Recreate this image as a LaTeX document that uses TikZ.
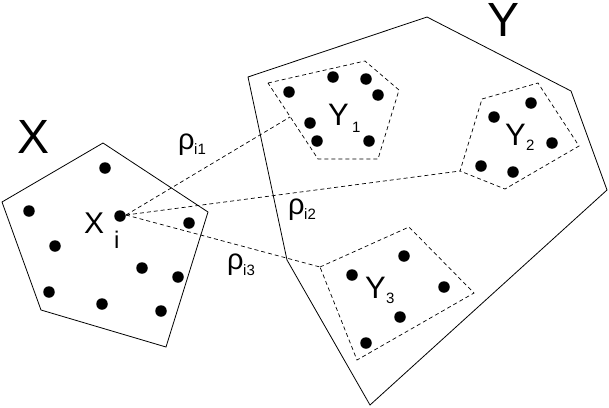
\documentclass[tikz,border=0pt]{standalone}
\usepackage{fontspec}
\setmainfont{Liberation Sans}
\begin{document}
\begin{tikzpicture}[x=1pt,y=-1pt,
  solidline/.style={line width=0.8pt},
  dashline/.style={line width=0.7pt,dash pattern=on 4pt off 3pt},
  dotmark/.style={circle,fill=black,inner sep=0pt,minimum size=11.5pt},
  lab/.style={anchor=base west,inner sep=0pt},
  bigf/.style={lab,font=\fontsize{48}{48}\selectfont},
  midf/.style={lab,font=\fontsize{31}{31}\selectfont},
  rhof/.style={lab,font=\fontsize{29}{29}\selectfont},
  subf/.style={lab,font=\fontsize{15}{15}\selectfont}]
\useasboundingbox (0,0) rectangle (609,407);
% set X
\draw[solidline] (103,143) -- (208,212) -- (166,347) -- (41,310) -- (2,202) -- cycle;
% set Y
\draw[solidline] (248,77) -- (427,17) -- (571,91) -- (607,190) -- (370,405) -- (287,260) -- cycle;
% subsets
\draw[dashline] (268,83) -- (365,61) -- (399,90) -- (378,159) -- (318,159) -- cycle;
\draw[dashline] (482,99) -- (538,83) -- (579,146) -- (505,189) -- (460,171) -- cycle;
\draw[dashline] (320,267) -- (409,227) -- (474,293) -- (357,360) -- cycle;
% points of X
\foreach \p in {(105,168),(29,211),(189,223),(55,246),(142,268),(178,277),(49,292),(102,304),(161,311)}
  \node[dotmark] at \p {};
\node[dotmark] (xi) at (120,216) {};
% points of Y1
\foreach \p in {(289,92),(333,77),(366,79),(378,95),(310,123),(317,141),(369,141)}
  \node[dotmark] at \p {};
% points of Y2
\foreach \p in {(494,117),(531,103),(552,143),(481,166),(513,172)}
  \node[dotmark] at \p {};
% points of Y3
\foreach \p in {(352,275),(404,256),(444,287),(400,317),(366,343)}
  \node[dotmark] at \p {};
% connector coordinates
\coordinate (src) at (126,215);
\coordinate (e1) at (290,117);
\coordinate (e2) at (460,171);
\coordinate (e3) at (320,267);
\draw[dashline] (src) -- (e1);
\draw[dashline] (src) -- (e2);
\draw[dashline] (src) -- (e3);
% labels
\node[bigf] (lx) at (17,153) {X};
\node[bigf] (ly) at (487,36) {Y};
\node[lab,font=\fontsize{30}{30}\selectfont] (lxi) at (84,233) {X};
\node[lab,font=\fontsize{24}{24}\selectfont] (lxis) at (114,248) {i};
\node[rhof] (r1) at (178,149) {ρ};
\node[subf] (r1s) at (194,154) {i1};
\node[rhof] (r2) at (288,214) {ρ};
\node[subf] (r2s) at (304,219) {i2};
\node[rhof] (r3) at (227,269) {ρ};
\node[subf] (r3s) at (243,275) {i3};
\node[midf] (l1) at (328,125) {Y};
\node[subf] (l1s) at (352,132) {1};
\node[midf] (l2) at (505,145) {Y};
\node[subf] (l2s) at (526,150) {2};
\node[midf] (l3) at (365,298) {Y};
\node[subf] (l3s) at (386,303) {3};
\end{tikzpicture}
\end{document}
